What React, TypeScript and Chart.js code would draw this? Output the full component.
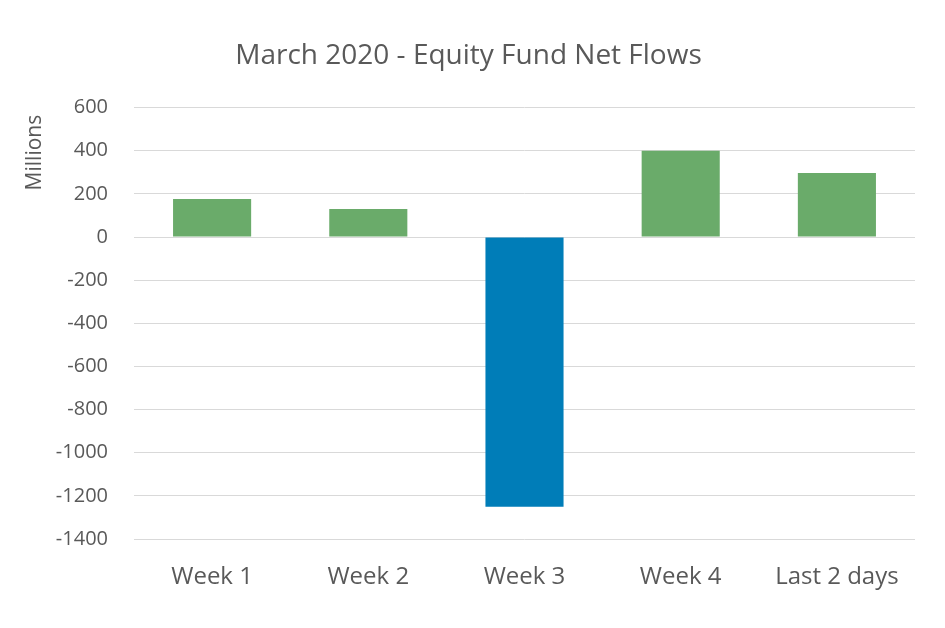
import React, { useEffect, useRef } from "react";
import { Chart, registerables } from "chart.js";

Chart.register(...registerables);

const categories = ["Week 1", "Week 2", "Week 3", "Week 4", "Last 2 days"];
const netFlows = [176, 130, -1250, 400, 297];
const barColors = ["#6AAB6A", "#6AAB6A", "#007DB8", "#6AAB6A", "#6AAB6A"];
const titleText = "March 2020 - Equity Fund Net Flows";
const yAxisTitle = "Millions";

const FONT = "'Open Sans', 'Noto Sans', sans-serif";
const TEXT = "#595959";

const yTitlePlugin = {
  id: "yTitle",
  afterDraw(chart: any) {
    const { ctx, chartArea } = chart;
    ctx.save();
    ctx.fillStyle = TEXT;
    ctx.font = `21px ${FONT}`;
    ctx.textAlign = "center";
    ctx.textBaseline = "middle";
    ctx.translate(chartArea.left - 99, chartArea.top + 45);
    ctx.rotate(-Math.PI / 2);
    ctx.fillText(yAxisTitle, 0, 0);
    ctx.restore();
  },
};

export default function App() {
  const ref = useRef<HTMLCanvasElement | null>(null);
  useEffect(() => {
    document.body.style.margin = "0";
    const chart = new Chart(ref.current as HTMLCanvasElement, {
      type: "bar",
      data: {
        labels: categories,
        datasets: [
          {
            data: netFlows,
            backgroundColor: barColors,
            borderWidth: 0,
            categoryPercentage: 1,
            barPercentage: 0.5,
          },
        ],
      },
      plugins: [yTitlePlugin],
      options: {
        animation: false,
        responsive: false,
        maintainAspectRatio: false,
        layout: { padding: { left: 22, right: 30, top: 0, bottom: 0 } },
        plugins: {
          legend: { display: false },
          tooltip: { enabled: false },
          title: {
            display: true,
            text: titleText,
            color: TEXT,
            font: { family: FONT, size: 28, weight: "normal" },
            padding: { top: 39, bottom: 35 },
          },
        },
        scales: {
          x: {
            grid: { display: false },
            border: { display: false },
            ticks: {
              color: TEXT,
              font: { family: FONT, size: 24 },
              padding: 16,
              maxRotation: 0,
            },
            afterFit(scale: any) {
              scale.height = 89;
            },
          },
          y: {
            min: -1400,
            max: 600,
            grid: { color: "#D9D9D9", lineWidth: 1, drawTicks: false },
            border: { display: false },
            ticks: {
              stepSize: 200,
              color: TEXT,
              font: { family: FONT, size: 20 },
              padding: 26,
              callback: (v: any) => String(v),
            },
            afterFit(scale: any) {
              scale.width = 112;
            },
          },
        },
      },
    });
    return () => chart.destroy();
  }, []);
  return (
    <div style={{ position: "absolute", left: 0, top: 0, width: 945, height: 628 }}>
      <canvas ref={ref} width={945} height={628} style={{ width: 945, height: 628 }} />
    </div>
  );
}
